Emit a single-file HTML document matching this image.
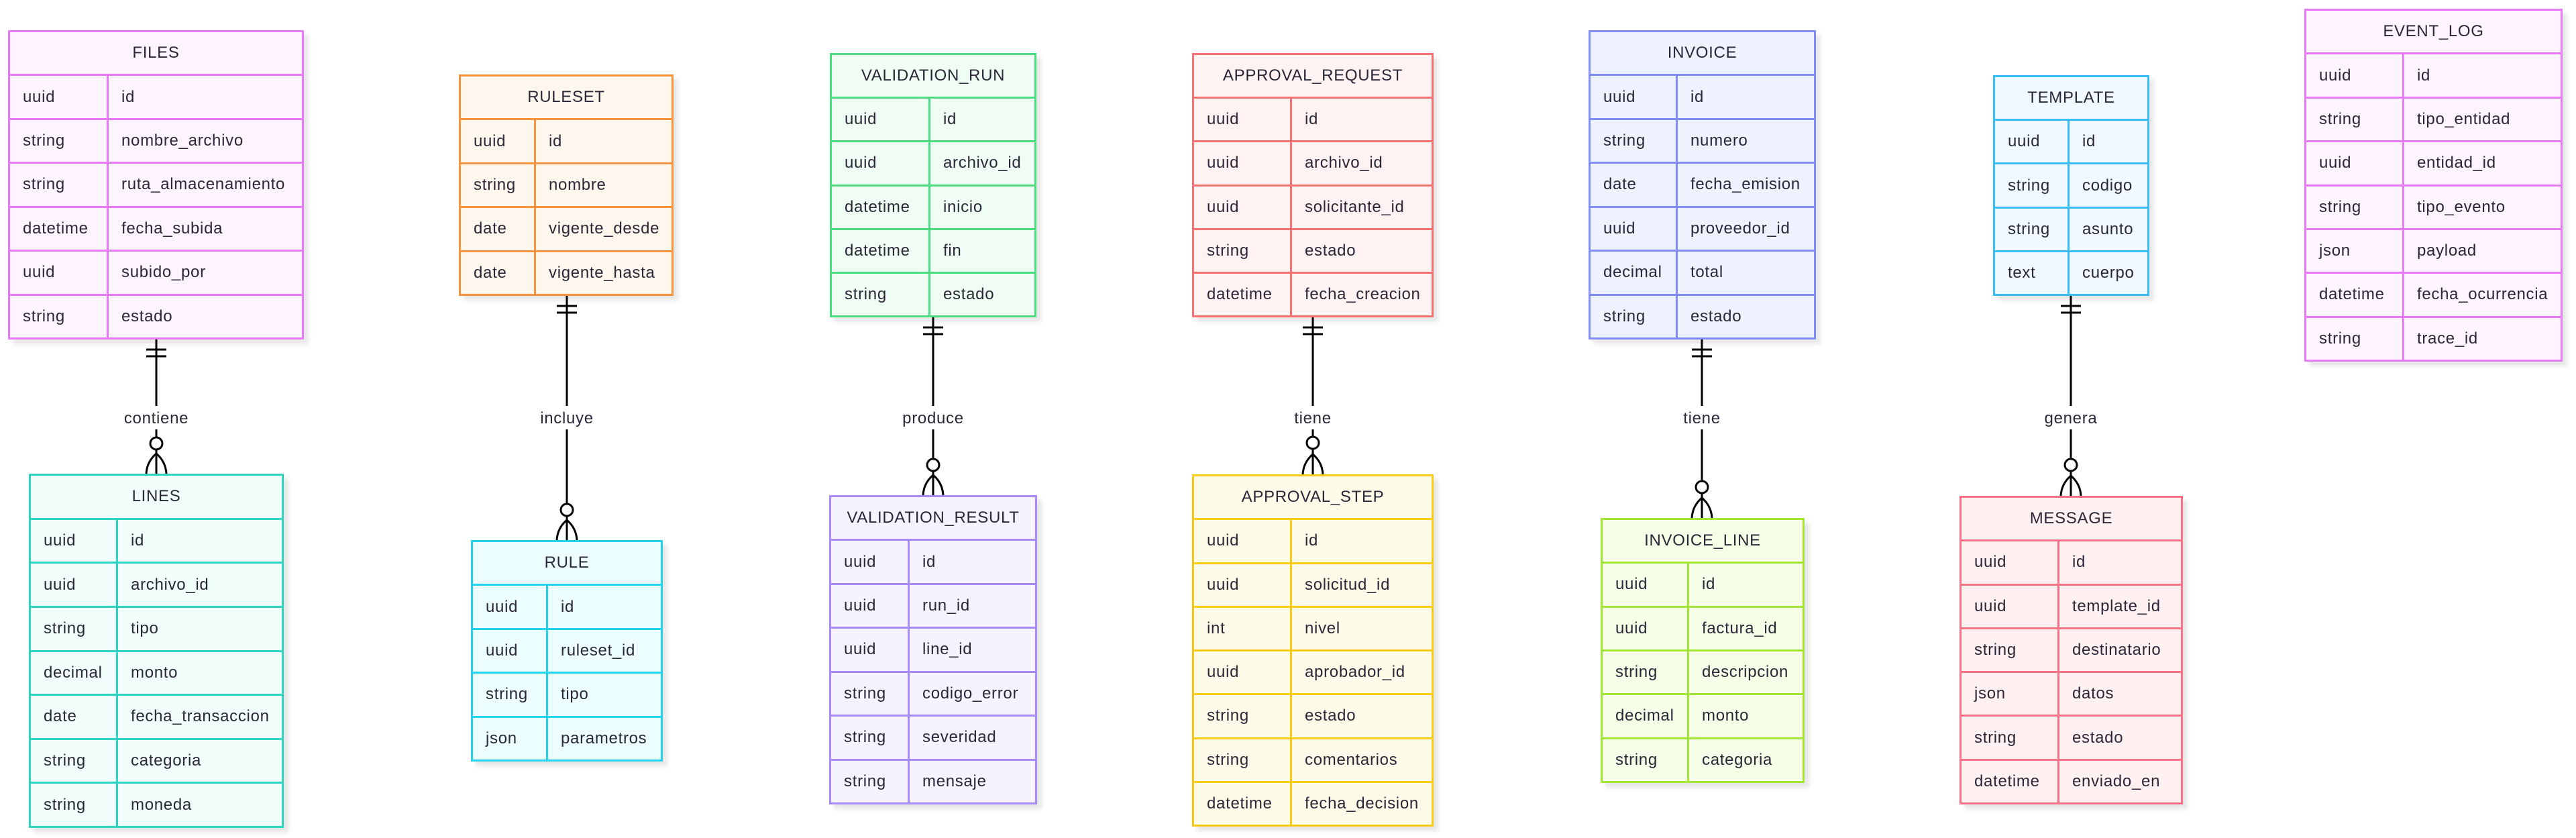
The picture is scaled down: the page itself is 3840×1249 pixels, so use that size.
<!DOCTYPE html>
<html><head><meta charset="utf-8"><style>
body{margin:0;width:3840px;height:1249px;background:#fff;position:relative;overflow:hidden;font-family:"Liberation Sans",sans-serif;color:#2a2838;}
.e{position:absolute;box-sizing:border-box;border:3px solid;display:flex;flex-direction:column;filter:drop-shadow(7px 7px 3px rgba(0,0,0,0.09));}
.e>div{flex:1;display:flex;align-items:center;font-size:24px;letter-spacing:0.7px;white-space:nowrap;}
.e>div+div{border-top:3px solid;border-color:inherit;}
.e .h{justify-content:center;}
.e .t{box-sizing:border-box;height:100%;display:flex;align-items:center;padding-left:19px;border-right:3px solid;border-color:inherit;}
.e .n{padding-left:19px;}
svg{position:absolute;left:0;top:0;}
svg text{font-family:"Liberation Sans",sans-serif;font-size:24px;letter-spacing:0.7px;fill:#2a2838;}
</style></head><body>

<div class="e" style="left:12px;top:45px;width:441px;height:461px;border-color:#e879f9;background:#fdf4ff;--d:144px">
<div class="h">FILES</div>
<div><span class="t" style="width:147px">uuid</span><span class="n">id</span></div>
<div><span class="t" style="width:147px">string</span><span class="n">nombre_archivo</span></div>
<div><span class="t" style="width:147px">string</span><span class="n">ruta_almacenamiento</span></div>
<div><span class="t" style="width:147px">datetime</span><span class="n">fecha_subida</span></div>
<div><span class="t" style="width:147px">uuid</span><span class="n">subido_por</span></div>
<div><span class="t" style="width:147px">string</span><span class="n">estado</span></div>
</div>

<div class="e" style="left:43px;top:706px;width:380px;height:528px;border-color:#2dd4bf;background:#f0fdfa">
<div class="h">LINES</div>
<div><span class="t" style="width:130px">uuid</span><span class="n">id</span></div>
<div><span class="t" style="width:130px">uuid</span><span class="n">archivo_id</span></div>
<div><span class="t" style="width:130px">string</span><span class="n">tipo</span></div>
<div><span class="t" style="width:130px">decimal</span><span class="n">monto</span></div>
<div><span class="t" style="width:130px">date</span><span class="n">fecha_transaccion</span></div>
<div><span class="t" style="width:130px">string</span><span class="n">categoria</span></div>
<div><span class="t" style="width:130px">string</span><span class="n">moneda</span></div>
</div>

<div class="e" style="left:684px;top:111px;width:320px;height:330px;border-color:#fb923c;background:#fff7ed">
<div class="h">RULESET</div>
<div><span class="t" style="width:112px">uuid</span><span class="n">id</span></div>
<div><span class="t" style="width:112px">string</span><span class="n">nombre</span></div>
<div><span class="t" style="width:112px">date</span><span class="n">vigente_desde</span></div>
<div><span class="t" style="width:112px">date</span><span class="n">vigente_hasta</span></div>
</div>

<div class="e" style="left:702px;top:805px;width:286px;height:330px;border-color:#22d3ee;background:#ecfeff">
<div class="h">RULE</div>
<div><span class="t" style="width:112px">uuid</span><span class="n">id</span></div>
<div><span class="t" style="width:112px">uuid</span><span class="n">ruleset_id</span></div>
<div><span class="t" style="width:112px">string</span><span class="n">tipo</span></div>
<div><span class="t" style="width:112px">json</span><span class="n">parametros</span></div>
</div>

<div class="e" style="left:1237px;top:79px;width:308px;height:394px;border-color:#4ade80;background:#f0fdf4">
<div class="h">VALIDATION_RUN</div>
<div><span class="t" style="width:147px">uuid</span><span class="n">id</span></div>
<div><span class="t" style="width:147px">uuid</span><span class="n">archivo_id</span></div>
<div><span class="t" style="width:147px">datetime</span><span class="n">inicio</span></div>
<div><span class="t" style="width:147px">datetime</span><span class="n">fin</span></div>
<div><span class="t" style="width:147px">string</span><span class="n">estado</span></div>
</div>

<div class="e" style="left:1236px;top:738px;width:310px;height:461px;border-color:#a78bfa;background:#f5f3ff">
<div class="h">VALIDATION_RESULT</div>
<div><span class="t" style="width:117px">uuid</span><span class="n">id</span></div>
<div><span class="t" style="width:117px">uuid</span><span class="n">run_id</span></div>
<div><span class="t" style="width:117px">uuid</span><span class="n">line_id</span></div>
<div><span class="t" style="width:117px">string</span><span class="n">codigo_error</span></div>
<div><span class="t" style="width:117px">string</span><span class="n">severidad</span></div>
<div><span class="t" style="width:117px">string</span><span class="n">mensaje</span></div>
</div>

<div class="e" style="left:1777px;top:79px;width:360px;height:394px;border-color:#f87171;background:#fef2f2">
<div class="h">APPROVAL_REQUEST</div>
<div><span class="t" style="width:146px">uuid</span><span class="n">id</span></div>
<div><span class="t" style="width:146px">uuid</span><span class="n">archivo_id</span></div>
<div><span class="t" style="width:146px">uuid</span><span class="n">solicitante_id</span></div>
<div><span class="t" style="width:146px">string</span><span class="n">estado</span></div>
<div><span class="t" style="width:146px">datetime</span><span class="n">fecha_creacion</span></div>
</div>

<div class="e" style="left:1777px;top:707px;width:360px;height:525px;border-color:#facc15;background:#fefce8">
<div class="h">APPROVAL_STEP</div>
<div><span class="t" style="width:146px">uuid</span><span class="n">id</span></div>
<div><span class="t" style="width:146px">uuid</span><span class="n">solicitud_id</span></div>
<div><span class="t" style="width:146px">int</span><span class="n">nivel</span></div>
<div><span class="t" style="width:146px">uuid</span><span class="n">aprobador_id</span></div>
<div><span class="t" style="width:146px">string</span><span class="n">estado</span></div>
<div><span class="t" style="width:146px">string</span><span class="n">comentarios</span></div>
<div><span class="t" style="width:146px">datetime</span><span class="n">fecha_decision</span></div>
</div>

<div class="e" style="left:2368px;top:45px;width:339px;height:461px;border-color:#818cf8;background:#eef2ff">
<div class="h">INVOICE</div>
<div><span class="t" style="width:130px">uuid</span><span class="n">id</span></div>
<div><span class="t" style="width:130px">string</span><span class="n">numero</span></div>
<div><span class="t" style="width:130px">date</span><span class="n">fecha_emision</span></div>
<div><span class="t" style="width:130px">uuid</span><span class="n">proveedor_id</span></div>
<div><span class="t" style="width:130px">decimal</span><span class="n">total</span></div>
<div><span class="t" style="width:130px">string</span><span class="n">estado</span></div>
</div>

<div class="e" style="left:2386px;top:772px;width:304px;height:395px;border-color:#a3e635;background:#f7fee7">
<div class="h">INVOICE_LINE</div>
<div><span class="t" style="width:129px">uuid</span><span class="n">id</span></div>
<div><span class="t" style="width:129px">uuid</span><span class="n">factura_id</span></div>
<div><span class="t" style="width:129px">string</span><span class="n">descripcion</span></div>
<div><span class="t" style="width:129px">decimal</span><span class="n">monto</span></div>
<div><span class="t" style="width:129px">string</span><span class="n">categoria</span></div>
</div>

<div class="e" style="left:2971px;top:112px;width:233px;height:329px;border-color:#38bdf8;background:#f0f9ff">
<div class="h">TEMPLATE</div>
<div><span class="t" style="width:111px">uuid</span><span class="n">id</span></div>
<div><span class="t" style="width:111px">string</span><span class="n">codigo</span></div>
<div><span class="t" style="width:111px">string</span><span class="n">asunto</span></div>
<div><span class="t" style="width:111px">text</span><span class="n">cuerpo</span></div>
</div>

<div class="e" style="left:2921px;top:739px;width:333px;height:460px;border-color:#fb7185;background:#fff1f2">
<div class="h">MESSAGE</div>
<div><span class="t" style="width:146px">uuid</span><span class="n">id</span></div>
<div><span class="t" style="width:146px">uuid</span><span class="n">template_id</span></div>
<div><span class="t" style="width:146px">string</span><span class="n">destinatario</span></div>
<div><span class="t" style="width:146px">json</span><span class="n">datos</span></div>
<div><span class="t" style="width:146px">string</span><span class="n">estado</span></div>
<div><span class="t" style="width:146px">datetime</span><span class="n">enviado_en</span></div>
</div>

<div class="e" style="left:3435px;top:13px;width:385px;height:526px;border-color:#e879f9;background:#fdf4ff">
<div class="h">EVENT_LOG</div>
<div><span class="t" style="width:146px">uuid</span><span class="n">id</span></div>
<div><span class="t" style="width:146px">string</span><span class="n">tipo_entidad</span></div>
<div><span class="t" style="width:146px">uuid</span><span class="n">entidad_id</span></div>
<div><span class="t" style="width:146px">string</span><span class="n">tipo_evento</span></div>
<div><span class="t" style="width:146px">json</span><span class="n">payload</span></div>
<div><span class="t" style="width:146px">datetime</span><span class="n">fecha_ocurrencia</span></div>
<div><span class="t" style="width:146px">string</span><span class="n">trace_id</span></div>
</div>

<svg width="3840" height="1249" viewBox="0 0 3840 1249" fill="none" stroke="#000" stroke-width="3">
<!-- contiene -->
<g>
<path d="M233 506V605M218 521H248M218 531H248M233 640V652M233 670V706"/>
<circle cx="233" cy="661" r="9"/>
<path d="M233 676Q219 688 218 706M233 676Q247 688 248 706"/>
<text x="233" y="631" text-anchor="middle" stroke="none">contiene</text>
</g>
<!-- incluye -->
<g>
<path d="M845 441V605M830 456H860M830 466H860M845 640V751M845 769V805"/>
<circle cx="845" cy="760" r="9"/>
<path d="M845 775Q831 787 830 805M845 775Q859 787 860 805"/>
<text x="845" y="631" text-anchor="middle" stroke="none">incluye</text>
</g>
<!-- produce -->
<g>
<path d="M1391 473V605M1376 488H1406M1376 498H1406M1391 640V684M1391 702V738"/>
<circle cx="1391" cy="693" r="9"/>
<path d="M1391 708Q1377 720 1376 738M1391 708Q1405 720 1406 738"/>
<text x="1391" y="631" text-anchor="middle" stroke="none">produce</text>
</g>
<!-- tiene AR -->
<g>
<path d="M1957 473V605M1942 488H1972M1942 498H1972M1957 640V651M1957 669V707"/>
<circle cx="1957" cy="660" r="9"/>
<path d="M1957 677Q1943 689 1942 707M1957 677Q1971 689 1972 707"/>
<text x="1957" y="631" text-anchor="middle" stroke="none">tiene</text>
</g>
<!-- tiene INV -->
<g>
<path d="M2537 506V605M2522 521H2552M2522 531H2552M2537 640V717M2537 735V772"/>
<circle cx="2537" cy="726" r="9"/>
<path d="M2537 742Q2523 754 2522 772M2537 742Q2551 754 2552 772"/>
<text x="2537" y="631" text-anchor="middle" stroke="none">tiene</text>
</g>
<!-- genera -->
<g>
<path d="M3087 441V605M3072 456H3102M3072 466H3102M3087 640V684M3087 702V739"/>
<circle cx="3087" cy="693" r="9"/>
<path d="M3087 709Q3073 721 3072 739M3087 709Q3101 721 3102 739"/>
<text x="3087" y="631" text-anchor="middle" stroke="none">genera</text>
</g>
</svg>
</body></html>
